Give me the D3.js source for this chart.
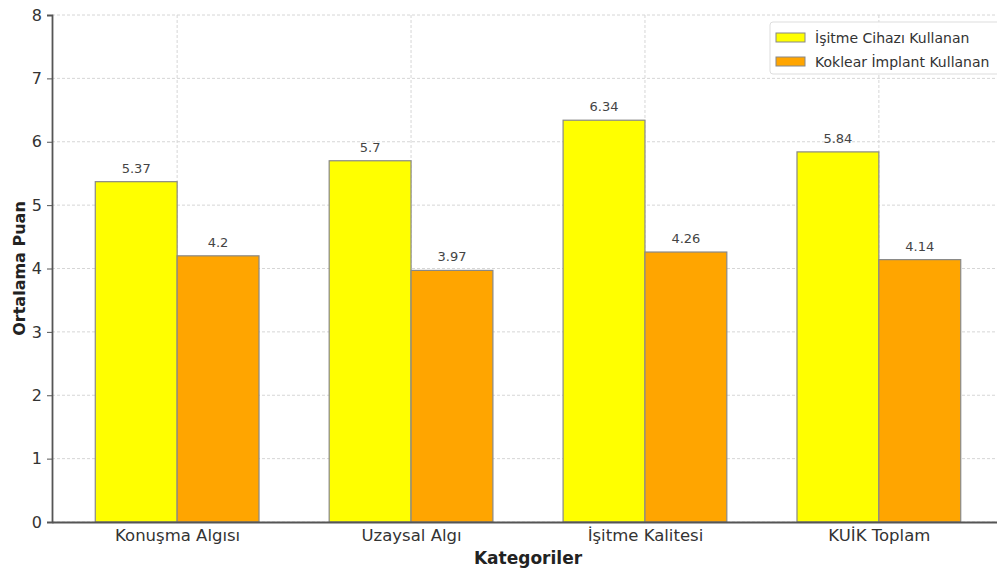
<!DOCTYPE html>
<html>
<head>
<meta charset="utf-8">
<script src="https://cdn.jsdelivr.net/npm/d3@7"></script>
<style>
  html, body { margin: 0; padding: 0; background: #fff; }
  svg { display: block; font-family: "DejaVu Sans", sans-serif; }
</style>
</head>
<body>
<svg id="chart" width="997" height="572"></svg>
<script>
// Mean scores by category for the two user groups
const categories = ["Konuşma Algısı", "Uzaysal Algı", "İşitme Kalitesi", "KUİK Toplam"];
const hearingAid = [5.37, 5.7, 6.34, 5.84];
const cochlear = [4.2, 3.97, 4.26, 4.14];
const seriesNames = ["İşitme Cihazı Kullanan", "Koklear İmplant Kullanan"];
const seriesColors = ["#ffff00", "#ffa500"];
const yTicks = [0, 1, 2, 3, 4, 5, 6, 7, 8];

const svg = d3.select("#chart");
const plotTop = 15;
const plotBottom = 522;

// Continuous x (category index) scale, bar width 0.35 per group member
const barW = 0.35;
const xMin = -0.535, xMax = 3.535;
const x = d3.scaleLinear().domain([xMin, xMax]).range([52, 1004]);
const y = d3.scaleLinear().domain([0, 8]).range([plotBottom, plotTop]);

const g = svg.append("g");

// Grid lines
g.append("g").selectAll("line").data(yTicks).join("line")
  .attr("x1", x(xMin)).attr("x2", x(xMax))
  .attr("y1", d => y(d)).attr("y2", d => y(d))
  .attr("stroke", "#d6d6d6").attr("stroke-width", 1).attr("stroke-dasharray", "3,2");
g.append("g").selectAll("line").data(categories).join("line")
  .attr("x1", (d, i) => x(i)).attr("x2", (d, i) => x(i))
  .attr("y1", y(8)).attr("y2", y(0))
  .attr("stroke", "#d6d6d6").attr("stroke-width", 1).attr("stroke-dasharray", "3,2");

// Bars and value labels
const series = [hearingAid, cochlear];
series.forEach((vals, s) => {
  const off = s === 0 ? -barW : 0;
  g.append("g").selectAll("rect").data(vals).join("rect")
    .attr("x", (d, i) => x(i + off))
    .attr("width", x(barW) - x(0))
    .attr("y", d => y(d))
    .attr("height", d => y(0) - y(d))
    .attr("fill", seriesColors[s])
    .attr("stroke", "#888").attr("stroke-width", 1.2);
  g.append("g").selectAll("text").data(vals).join("text")
    .attr("x", (d, i) => x(i + off + barW / 2))
    .attr("y", d => y(d) - 9)
    .attr("text-anchor", "middle")
    .attr("font-size", 13).attr("fill", "#444")
    .text(d => d);
});

// Axes
const yAxis = d3.axisLeft(y).tickValues(yTicks).tickSize(5).tickPadding(5);
const ya = g.append("g").attr("transform", `translate(${x(xMin)},0)`).call(yAxis);
ya.select(".domain").attr("stroke", "#555").attr("stroke-width", 1.8);
ya.selectAll(".tick line").attr("stroke", "#555");
ya.selectAll(".tick text").attr("font-size", 16).attr("fill", "#333")
  .attr("font-family", "DejaVu Sans");

const xAxis = d3.axisBottom(x).tickValues([0, 1, 2, 3]).tickSize(0).tickPadding(7)
  .tickFormat(i => categories[i]);
const xa = g.append("g").attr("transform", `translate(0,${plotBottom})`).call(xAxis);
xa.select(".domain").attr("stroke", "#555").attr("stroke-width", 1.8);
xa.selectAll(".tick text").attr("font-size", 16.5).attr("fill", "#333")
  .attr("font-family", "DejaVu Sans");

// Axis titles
svg.append("text")
  .attr("x", 528).attr("y", 564)
  .attr("text-anchor", "middle").attr("font-size", 17).attr("font-weight", "bold")
  .attr("fill", "#222").text("Kategoriler");
svg.append("text")
  .attr("transform", `translate(25,${(y(0) + y(8)) / 2}) rotate(-90)`)
  .attr("text-anchor", "middle").attr("font-size", 16).attr("font-weight", "bold")
  .attr("fill", "#222").text("Ortalama Puan");

// Legend
const lg = svg.append("g").attr("transform", "translate(770,22)");
lg.append("rect").attr("x", 0).attr("y", 0).attr("width", 240).attr("height", 52)
  .attr("rx", 3).attr("fill", "#fff").attr("fill-opacity", 0.9)
  .attr("stroke", "#ddd");
seriesNames.forEach((name, i) => {
  lg.append("rect").attr("x", 6).attr("y", 11 + i * 24).attr("width", 29).attr("height", 9)
    .attr("fill", seriesColors[i]).attr("stroke", "#888");
  lg.append("text").attr("x", 45).attr("y", 20.5 + i * 24)
    .attr("font-size", 14).attr("fill", "#333").text(name);
});
</script>
</body>
</html>
